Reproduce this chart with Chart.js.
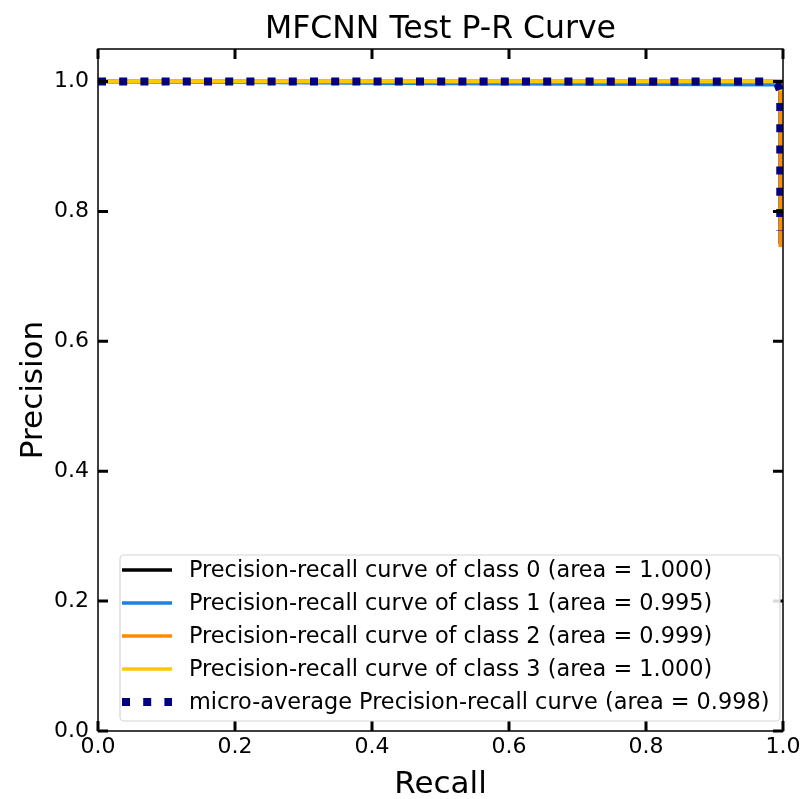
<!DOCTYPE html>
<html>
<head>
<meta charset="utf-8">
<script src="https://cdn.jsdelivr.net/npm/chart.js@4.4.1/dist/chart.umd.min.js"></script>
<style>
  html, body { margin: 0; padding: 0; background: #fff; }
  #wrap { width: 804px; height: 799px; }
</style>
</head>
<body>
<div id="wrap"><canvas id="prChart" width="804" height="799"></canvas></div>
<script>
// curve points (recall, precision)
const class0Recall = [0, 0.996, 0.996];
const class0Precision = [1, 1, 0.75];
const class1Recall = [0, 0.5, 0.99, 0.996, 0.996];
const class1Precision = [1, 0.997, 0.995, 0.99, 0.75];
const class2Recall = [0, 0.99, 0.996, 0.996];
const class2Precision = [1, 1, 0.998, 0.745];
const class3Recall = [0, 0.996, 0.996];
const class3Precision = [1, 1, 0.985];
const microRecall = [0, 0.985, 0.992, 0.996, 0.996];
const microPrecision = [1, 1, 0.996, 0.985, 0.77];

const seriesLabels = [
    'Precision-recall curve of class 0 (area = 1.000)',
    'Precision-recall curve of class 1 (area = 0.995)',
    'Precision-recall curve of class 2 (area = 0.999)',
    'Precision-recall curve of class 3 (area = 1.000)',
    'micro-average Precision-recall curve (area = 0.998)'
];
const xTicks = [0, 0.2, 0.4, 0.6, 0.8, 1.0];
const yTicks = [0, 0.2, 0.4, 0.6, 0.8, 1.0];

const FONT = "'DejaVu Sans', sans-serif";

function pts(xs, ys) {
    return xs.map((x, i) => ({ x: x, y: ys[i] }));
}

const datasets = [
    { label: seriesLabels[0], data: pts(class0Recall, class0Precision), borderColor: '#000000', borderWidth: 3.5, order: 5 },
    { label: seriesLabels[1], data: pts(class1Recall, class1Precision), borderColor: '#1a82e2', borderWidth: 3.5, order: 4 },
    { label: seriesLabels[2], data: pts(class2Recall, class2Precision), borderColor: '#ff8c00', borderWidth: 3.5, order: 3 },
    { label: seriesLabels[3], data: pts(class3Recall, class3Precision), borderColor: '#ffc800', borderWidth: 3.5, order: 2 },
    { label: seriesLabels[4], data: pts(microRecall, microPrecision), borderColor: '#000080', borderWidth: 8, borderDash: [8, 13.2], order: 1 }
];
datasets.forEach(d => {
    d.showLine = true;
    d.pointRadius = 0;
    d.fill = false;
    d.tension = 0;
    d.borderCapStyle = 'butt';
});

// frame, inward ticks, titles and legend box like matplotlib
const decorations = {
    id: 'decorations',
    afterDatasetsDraw(chart) {
        const ctx = chart.ctx;
        const a = chart.chartArea;
        const xs = chart.scales.x, ys = chart.scales.y;
        ctx.save();
        ctx.strokeStyle = '#000';
        ctx.lineWidth = 1.5;
        ctx.strokeRect(a.left, a.top, a.right - a.left, a.bottom - a.top);
        ctx.lineWidth = 3;
        xTicks.forEach(v => {
            const px = xs.getPixelForValue(v);
            ctx.beginPath();
            ctx.moveTo(px, a.bottom); ctx.lineTo(px, a.bottom - 10);
            ctx.moveTo(px, a.top); ctx.lineTo(px, a.top + 10);
            ctx.stroke();
        });
        yTicks.forEach(v => {
            const py = ys.getPixelForValue(v);
            ctx.beginPath();
            ctx.moveTo(a.left, py); ctx.lineTo(a.left + 10, py);
            ctx.moveTo(a.right, py); ctx.lineTo(a.right - 10, py);
            ctx.stroke();
        });

        ctx.fillStyle = '#000';
        // title
        ctx.font = '31.5px ' + FONT;
        ctx.textAlign = 'center';
        ctx.textBaseline = 'alphabetic';
        ctx.fillText('MFCNN Test P-R Curve', (a.left + a.right) / 2, 38);
        // axis titles
        ctx.font = '31px ' + FONT;
        ctx.fillText('Recall', (a.left + a.right) / 2, 793);
        ctx.save();
        ctx.translate(42, (a.top + a.bottom) / 2);
        ctx.rotate(-Math.PI / 2);
        ctx.fillText('Precision', 0, 0);
        ctx.restore();

        // legend
        const bx = 120, by = 555, bw = 660, bh = 166;
        ctx.beginPath();
        ctx.roundRect(bx, by, bw, bh, 4);
        ctx.fillStyle = 'rgba(255,255,255,0.85)';
        ctx.fill();
        ctx.strokeStyle = '#d6d6d6';
        ctx.lineWidth = 1.2;
        ctx.stroke();
        ctx.font = '22.4px ' + FONT;
        ctx.textAlign = 'left';
        ctx.textBaseline = 'middle';
        chart.data.datasets.forEach((d, i) => {
            const cy = 570 + i * 33;
            ctx.beginPath();
            ctx.strokeStyle = d.borderColor;
            ctx.lineWidth = d.borderWidth;
            ctx.setLineDash(d.borderDash || []);
            ctx.moveTo(122, cy); ctx.lineTo(172, cy);
            ctx.stroke();
            ctx.setLineDash([]);
            ctx.fillStyle = '#000';
            ctx.fillText(d.label, 189, cy + 1);
        });
        ctx.restore();
    }
};

new Chart(document.getElementById('prChart'), {
    type: 'scatter',
    data: { datasets: datasets },
    options: {
        responsive: false,
        animation: false,
        layout: { padding: { top: 49, right: 21, left: 0, bottom: 0 } },
        plugins: {
            legend: { display: false },
            tooltip: { enabled: false }
        },
        scales: {
            x: {
                type: 'linear',
                min: 0,
                max: 1,
                afterBuildTicks: s => { s.ticks = xTicks.map(v => ({ value: v })); },
                afterFit: s => { s.height = 68; },
                grid: { display: false, drawTicks: false },
                border: { display: false },
                ticks: {
                    padding: 3,
                    color: '#000',
                    font: { family: FONT, size: 22 },
                    callback: v => v.toFixed(1)
                }
            },
            y: {
                type: 'linear',
                min: 0,
                max: 1.05,
                afterBuildTicks: s => { s.ticks = yTicks.map(v => ({ value: v })); },
                afterFit: s => { s.width = 98; },
                grid: { display: false, drawTicks: false },
                border: { display: false },
                ticks: {
                    padding: 9,
                    color: '#000',
                    font: { family: FONT, size: 22 },
                    callback: v => v.toFixed(1)
                }
            }
        }
    },
    plugins: [decorations]
});
</script>
</body>
</html>
